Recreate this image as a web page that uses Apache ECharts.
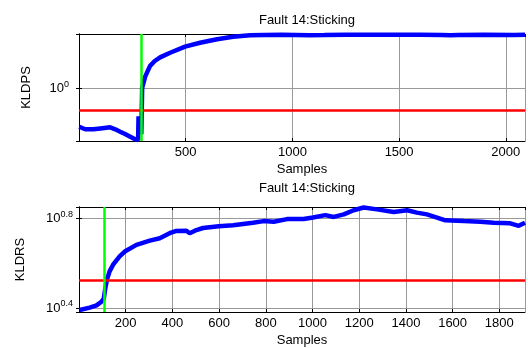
<!DOCTYPE html>
<html>
<head>
<meta charset="utf-8">
<script src="https://cdn.jsdelivr.net/npm/echarts@6/dist/echarts.min.js"></script>
<style>
  html, body { margin: 0; padding: 0; background: #fff; }
  #main { width: 528px; height: 348px; }
</style>
</head>
<body>
<div id="main"></div>
<script>
var titleText = "Fault 14:Sticking";
var xName = "Samples";

// KLDPS panel
var dpsSamples = [1, 29, 67, 100, 146, 170, 193, 216, 240, 263, 277, 279, 288, 292, 296, 310, 333, 355, 380, 427, 497, 567, 647, 722, 802, 868, 950, 1080, 1150, 1250, 1400, 1600, 1700, 1740, 1780, 1900, 2040, 2090];
var dpsValues = [0.386, 0.362, 0.362, 0.37, 0.38, 0.362, 0.341, 0.322, 0.301, 0.282, 0.277, 0.50, 0.50, 0.32, 1.02, 1.35, 1.77, 2.0, 2.19, 2.46, 2.86, 3.16, 3.44, 3.67, 3.80, 3.84, 3.85, 3.82, 3.83, 3.85, 3.85, 3.85, 3.84, 3.80, 3.84, 3.85, 3.83, 3.85];
var dpsLimit = 0.59;
var dpsFault = 291;
var dpsRange = [0.27, 3.93];
var dpsXMax = 2090;
var dpsXStep = 500;

// KLDRS panel
var drsSamples = [3, 46, 75, 96, 106, 112, 120, 131, 146, 174, 196, 246, 303, 346, 388, 417, 460, 474, 503, 531, 598, 660, 745, 791, 834, 891, 962, 1002, 1055, 1091, 1134, 1176, 1219, 1276, 1348, 1405, 1447, 1490, 1533, 1569, 1648, 1719, 1776, 1847, 1883, 1910];
var drsValues = [2.46, 2.52, 2.58, 2.68, 2.76, 3.05, 3.37, 3.66, 3.92, 4.27, 4.49, 4.81, 5.02, 5.15, 5.42, 5.55, 5.56, 5.42, 5.60, 5.72, 5.83, 5.89, 6.04, 6.14, 6.10, 6.27, 6.27, 6.37, 6.53, 6.41, 6.58, 6.87, 7.06, 6.93, 6.75, 6.87, 6.70, 6.58, 6.37, 6.19, 6.14, 6.10, 6.04, 6.00, 5.85, 6.04];
var drsLimit = 3.34;
var drsFault = 108;
var drsRange = [2.41, 7.10];
var drsXMax = 1910;
var drsXStep = 200;
var drsTickExp = 0.4; // y ticks every 10^0.4

var font = "Liberation Sans";

function pairs(xs, ys) {
  return xs.map(function (x, i) { return [x, ys[i]]; });
}

function powLabel(v) {
  var e = Math.round(Math.log10(v) * 10) / 10;
  return "10{sup|" + e + "}";
}

function xAxes(gridIndex, max, step) {
  var base = {
    type: "value",
    gridIndex: gridIndex,
    min: 0,
    max: max,
    interval: step,
    axisLine: { show: true, lineStyle: { color: "#000", width: 1 } },
    axisTick: { show: true, inside: true, length: 3, lineStyle: { color: "#000" } },
  };
  var bottom = Object.assign({}, base, {
    position: "bottom",
    name: xName,
    nameLocation: "middle",
    nameGap: 22,
    nameTextStyle: { color: "#000", fontFamily: font, fontSize: 13, verticalAlign: "top" },
    axisLabel: {
      show: true, showMinLabel: false, showMaxLabel: false, margin: 5,
      color: "#000", fontFamily: font, fontSize: 13,
      formatter: function (v) { return String(v); },
    },
    splitLine: { show: true, lineStyle: { color: "#9a9a9a", width: 1 } },
  });
  var top = Object.assign({}, base, {
    position: "top",
    axisLabel: { show: false },
    splitLine: { show: false },
  });
  return [bottom, top];
}

function yAxes(gridIndex, range, logBase, name, nameGap, labelMargin) {
  var base = {
    type: "log",
    logBase: logBase,
    gridIndex: gridIndex,
    min: range[0],
    max: range[1],
    axisLine: { show: true, lineStyle: { color: "#000", width: 1 } },
    axisTick: { show: true, inside: true, length: 3, lineStyle: { color: "#000" } },
  };
  var left = Object.assign({}, base, {
    position: "left",
    name: name,
    nameLocation: "middle",
    nameGap: nameGap,
    nameTextStyle: { color: "#000", fontFamily: font, fontSize: 13 },
    axisLabel: {
      show: true, showMinLabel: false, showMaxLabel: false, margin: labelMargin,
      color: "#000", fontFamily: font, fontSize: 13,
      formatter: powLabel,
      rich: { sup: { fontSize: 9, fontFamily: font, color: "#000", padding: [0, 0, 8, 0] } },
    },
    splitLine: { show: true, lineStyle: { color: "#9a9a9a", width: 1 } },
  });
  var right = Object.assign({}, base, {
    position: "right",
    axisLabel: { show: false },
    splitLine: { show: false },
  });
  return [left, right];
}

function panelSeries(xIdx, yIdx, xs, ys, limit, fault) {
  return {
    type: "line",
    xAxisIndex: xIdx,
    yAxisIndex: yIdx,
    data: pairs(xs, ys),
    showSymbol: false,
    clip: true,
    lineStyle: { color: "#0000ff", width: 4.5 },
    markLine: {
      silent: true,
      symbol: "none",
      label: { show: false },
      data: [
        { yAxis: limit, lineStyle: { color: "#ff0000", width: 2.5, type: "solid" } },
        { xAxis: fault, lineStyle: { color: "#00ff00", width: 2.5, type: "solid" } },
      ],
    },
  };
}

var chartDom = document.getElementById("main");
var myChart = echarts.init(chartDom, null, { renderer: "canvas" });
var option = {
  animation: false,
  backgroundColor: "#fff",
  title: [
    { text: titleText, left: 302, top: 9, textAlign: "center", textStyle: { color: "#000", fontFamily: font, fontSize: 13, fontWeight: "normal" } },
    { text: titleText, left: 302, top: 177, textAlign: "center", textStyle: { color: "#000", fontFamily: font, fontSize: 13, fontWeight: "normal" } },
  ],
  grid: [
    { left: 79, right: 3, top: 34, height: 107 },
    { left: 79, right: 3, top: 207, height: 106 },
  ],
  xAxis: xAxes(0, dpsXMax, dpsXStep).concat(xAxes(1, drsXMax, drsXStep)),
  yAxis: yAxes(0, dpsRange, 10, "KLDPS", 46, 10).concat(yAxes(1, drsRange, Math.pow(10, drsTickExp), "KLDRS", 52, 6)),
  series: [
    panelSeries(0, 0, dpsSamples, dpsValues, dpsLimit, dpsFault),
    panelSeries(2, 2, drsSamples, drsValues, drsLimit, drsFault),
  ],
};
option && myChart.setOption(option);
</script>
</body>
</html>
